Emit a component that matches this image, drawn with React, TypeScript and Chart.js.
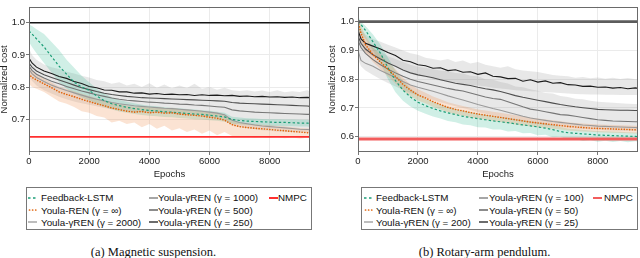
import React, { useEffect, useRef } from "react";
import { Chart, registerables } from "chart.js";
Chart.register(...registerables);

// ---------- shared axes ----------
const EPOCHS = [0,100,250,500,750,1000,1250,1500,1750,2000,
  2250,2500,2750,3000,3250,3500,3750,4000,4250,4500,
  4750,5000,5250,5500,5750,6000,6250,6500,6750,7000,
  7250,7500,7750,8000,8250,8500,8750,9000,9250,9340];
const X_TICKS = [0, 2000, 4000, 6000, 8000];
const X_MAX = 9340;
const X_TITLE = "Epochs";
const Y_TITLE = "Normalized cost";

// ---------- (a) Magnetic suspension ----------
const MAG_Y_TICKS = [0.7, 0.8, 0.9, 1.0];
const MAG_Y_MIN = 0.598;
const MAG_Y_MAX = 1.05;
const MAG_REF = 1.0;
const MAG_NMPC = 0.645;
const MAG_LSTM = [0.975,0.965,0.95,0.925,0.895,0.865,0.84,0.815,0.8,0.79,
  0.772,0.758,0.748,0.742,0.737,0.733,0.73,0.727,0.726,0.723,
  0.722,0.72,0.718,0.716,0.715,0.712,0.71,0.707,0.699,0.696,
  0.694,0.693,0.692,0.691,0.69,0.69,0.689,0.688,0.688,0.687];
const MAG_LSTM_HI = [0.995,0.99,0.98,0.965,0.94,0.915,0.885,0.86,0.835,0.815,
  0.795,0.78,0.768,0.76,0.754,0.75,0.745,0.742,0.74,0.737,
  0.736,0.734,0.732,0.73,0.728,0.726,0.723,0.72,0.708,0.705,
  0.703,0.702,0.701,0.7,0.7,0.699,0.699,0.698,0.698,0.697];
const MAG_LSTM_LO = [0.94,0.925,0.905,0.875,0.845,0.815,0.795,0.78,0.768,0.758,
  0.748,0.738,0.73,0.724,0.72,0.716,0.713,0.711,0.709,0.707,
  0.706,0.704,0.702,0.7,0.699,0.697,0.695,0.692,0.686,0.684,
  0.682,0.681,0.68,0.679,0.679,0.678,0.678,0.677,0.677,0.676];
const MAG_REN = [0.84,0.83,0.822,0.81,0.798,0.785,0.777,0.77,0.762,0.755,
  0.748,0.742,0.735,0.73,0.725,0.722,0.724,0.72,0.722,0.719,
  0.72,0.716,0.714,0.712,0.71,0.706,0.703,0.697,0.683,0.677,
  0.674,0.672,0.67,0.668,0.666,0.664,0.662,0.66,0.658,0.657];
const MAG_REN_HI = [0.86,0.85,0.84,0.826,0.814,0.802,0.794,0.787,0.779,0.772,
  0.765,0.758,0.752,0.747,0.742,0.739,0.74,0.737,0.738,0.735,
  0.736,0.732,0.73,0.728,0.726,0.722,0.72,0.715,0.695,0.69,
  0.687,0.685,0.683,0.681,0.679,0.677,0.675,0.673,0.671,0.67];
const MAG_REN_LO = [0.81,0.8,0.795,0.785,0.77,0.755,0.748,0.738,0.725,0.72,
  0.71,0.705,0.69,0.695,0.685,0.69,0.675,0.685,0.67,0.68,
  0.665,0.672,0.66,0.668,0.655,0.665,0.65,0.66,0.648,0.645,
  0.646,0.643,0.645,0.642,0.644,0.641,0.643,0.64,0.642,0.641];
const MAG_G_HIGH = [0.855,0.842,0.83,0.817,0.806,0.797,0.789,0.782,0.775,0.768,
  0.762,0.757,0.752,0.748,0.745,0.742,0.74,0.738,0.736,0.734,
  0.733,0.731,0.729,0.727,0.725,0.722,0.719,0.714,0.697,0.69,
  0.686,0.682,0.679,0.677,0.675,0.673,0.671,0.669,0.668,0.667]; // γ = 2000
const MAG_G_MIDHIGH = [0.865,0.852,0.84,0.828,0.818,0.81,0.802,0.795,0.788,0.782,
  0.776,0.771,0.766,0.762,0.759,0.757,0.755,0.753,0.752,0.75,
  0.749,0.747,0.746,0.744,0.743,0.741,0.739,0.737,0.729,0.726,
  0.724,0.722,0.721,0.72,0.719,0.718,0.717,0.716,0.715,0.715]; // γ = 1000
const MAG_G_MIDLOW = [0.875,0.862,0.85,0.838,0.83,0.822,0.814,0.806,0.798,0.792,
  0.786,0.781,0.777,0.774,0.771,0.769,0.767,0.766,0.765,0.764,
  0.763,0.762,0.761,0.76,0.759,0.758,0.757,0.756,0.752,0.75,
  0.749,0.748,0.747,0.746,0.745,0.744,0.743,0.742,0.741,0.74]; // γ = 500
const MAG_G_LOW = [0.89,0.875,0.862,0.85,0.842,0.833,0.827,0.817,0.811,0.802,
  0.798,0.791,0.79,0.785,0.785,0.781,0.782,0.778,0.78,0.777,
  0.778,0.776,0.777,0.774,0.776,0.774,0.775,0.773,0.774,0.771,
  0.772,0.77,0.771,0.769,0.77,0.768,0.769,0.767,0.768,0.767]; // γ = 250
const MAG_GRAY_HI = [0.92,0.9,0.885,0.87,0.862,0.856,0.848,0.842,0.835,0.83,
  0.822,0.818,0.81,0.815,0.805,0.81,0.8,0.812,0.798,0.808,
  0.796,0.805,0.797,0.81,0.795,0.8,0.792,0.798,0.79,0.788,
  0.79,0.786,0.789,0.785,0.79,0.784,0.787,0.785,0.79,0.786];
const MAG_GRAY_LO = [0.83,0.82,0.805,0.79,0.78,0.77,0.762,0.755,0.75,0.745,
  0.74,0.735,0.732,0.728,0.726,0.722,0.722,0.72,0.719,0.717,
  0.716,0.714,0.712,0.71,0.708,0.706,0.703,0.698,0.682,0.676,
  0.672,0.669,0.666,0.664,0.662,0.661,0.66,0.659,0.658,0.658];
const MAG_LABELS = ["Feedback-LSTM", "Youla-REN (γ = ∞)", "Youla-γREN (γ = 2000)",
  "Youla-γREN (γ = 1000)", "Youla-γREN (γ = 500)", "Youla-γREN (γ = 250)", "NMPC"];
const MAG_CAPTION = "(a) Magnetic suspension.";

// ---------- (b) Rotary-arm pendulum ----------
const PEN_Y_TICKS = [0.6, 0.7, 0.8, 0.9, 1.0];
const PEN_Y_MIN = 0.547;
const PEN_Y_MAX = 1.052;
const PEN_REF = 1.0;
const PEN_NMPC = 0.592;
const PEN_LSTM = [1.0,0.99,0.97,0.93,0.89,0.84,0.795,0.762,0.738,0.72,
  0.708,0.698,0.69,0.683,0.677,0.671,0.667,0.663,0.659,0.655,
  0.652,0.649,0.645,0.641,0.638,0.634,0.63,0.625,0.618,0.614,
  0.612,0.61,0.608,0.606,0.605,0.604,0.603,0.602,0.601,0.6];
const PEN_LSTM_HI = [1.02,1.0,0.985,0.955,0.92,0.875,0.83,0.795,0.768,0.748,
  0.733,0.722,0.712,0.704,0.697,0.691,0.686,0.681,0.677,0.673,
  0.669,0.666,0.662,0.658,0.654,0.65,0.646,0.641,0.634,0.629,
  0.626,0.624,0.622,0.62,0.619,0.618,0.617,0.616,0.615,0.615];
const PEN_LSTM_LO = [0.97,0.96,0.94,0.9,0.855,0.8,0.755,0.725,0.705,0.69,
  0.68,0.67,0.663,0.655,0.65,0.643,0.64,0.633,0.632,0.625,
  0.625,0.618,0.62,0.612,0.613,0.605,0.607,0.598,0.6,0.59,
  0.592,0.585,0.588,0.583,0.586,0.582,0.585,0.581,0.584,0.583];
const PEN_REN = [1.0,0.96,0.92,0.885,0.86,0.835,0.81,0.782,0.762,0.745,
  0.735,0.722,0.712,0.702,0.695,0.69,0.684,0.679,0.675,0.671,
  0.667,0.663,0.659,0.655,0.651,0.648,0.645,0.642,0.639,0.636,
  0.634,0.632,0.63,0.629,0.628,0.627,0.626,0.625,0.624,0.624];
const PEN_REN_HI = [1.02,0.985,0.95,0.91,0.885,0.86,0.835,0.805,0.782,0.765,
  0.753,0.74,0.73,0.72,0.713,0.707,0.701,0.695,0.691,0.687,
  0.683,0.679,0.675,0.671,0.667,0.663,0.66,0.657,0.654,0.65,
  0.648,0.646,0.644,0.643,0.642,0.641,0.64,0.639,0.638,0.638];
const PEN_REN_LO = [0.97,0.935,0.89,0.86,0.835,0.81,0.785,0.76,0.742,0.726,
  0.716,0.704,0.695,0.685,0.678,0.673,0.667,0.663,0.659,0.655,
  0.651,0.647,0.643,0.639,0.636,0.633,0.63,0.628,0.625,0.622,
  0.62,0.618,0.617,0.616,0.615,0.614,0.613,0.612,0.611,0.611];
const PEN_G_HIGH = [0.9,0.865,0.855,0.845,0.83,0.818,0.806,0.792,0.78,0.772,
  0.765,0.758,0.75,0.742,0.735,0.728,0.72,0.712,0.705,0.698,
  0.692,0.685,0.678,0.671,0.665,0.661,0.657,0.653,0.65,0.647,
  0.644,0.641,0.639,0.637,0.636,0.635,0.634,0.633,0.632,0.631]; // γ = 200
const PEN_G_MIDHIGH = [0.935,0.91,0.89,0.868,0.85,0.835,0.822,0.81,0.8,0.792,
  0.786,0.78,0.774,0.768,0.763,0.759,0.752,0.745,0.738,0.733,
  0.73,0.722,0.713,0.704,0.696,0.692,0.687,0.682,0.677,0.675,
  0.671,0.667,0.663,0.659,0.657,0.655,0.654,0.653,0.652,0.652]; // γ = 100
const PEN_G_MIDLOW = [0.95,0.925,0.905,0.885,0.87,0.856,0.845,0.832,0.822,0.815,
  0.81,0.805,0.798,0.792,0.786,0.782,0.778,0.772,0.767,0.763,
  0.757,0.75,0.743,0.737,0.732,0.727,0.722,0.717,0.712,0.708,
  0.704,0.701,0.698,0.695,0.694,0.693,0.692,0.692,0.691,0.691]; // γ = 50
const PEN_G_LOW = [0.97,0.94,0.925,0.915,0.905,0.893,0.882,0.866,0.861,0.85,
  0.847,0.838,0.84,0.83,0.833,0.824,0.826,0.817,0.822,0.81,
  0.808,0.802,0.803,0.793,0.798,0.79,0.794,0.786,0.788,0.781,
  0.78,0.775,0.776,0.772,0.773,0.769,0.771,0.767,0.77,0.768]; // γ = 25
const PEN_BLACK_HI = [1.0,0.97,0.955,0.94,0.93,0.92,0.91,0.9,0.89,0.885,
  0.875,0.87,0.865,0.87,0.86,0.865,0.855,0.86,0.85,0.845,
  0.84,0.845,0.835,0.83,0.828,0.825,0.82,0.815,0.812,0.81,
  0.805,0.808,0.803,0.806,0.802,0.805,0.801,0.804,0.8,0.8];
const PEN_BLACK_LO = [0.93,0.91,0.895,0.88,0.87,0.86,0.848,0.835,0.825,0.815,
  0.808,0.8,0.795,0.792,0.788,0.785,0.78,0.778,0.775,0.77,
  0.768,0.765,0.762,0.76,0.758,0.757,0.755,0.754,0.752,0.75,
  0.749,0.748,0.747,0.747,0.746,0.746,0.745,0.745,0.745,0.745];
const PEN_GRAY_HI = [0.98,0.95,0.93,0.91,0.895,0.88,0.87,0.86,0.85,0.843,
  0.84,0.835,0.83,0.828,0.822,0.82,0.812,0.81,0.8,0.798,
  0.79,0.785,0.775,0.772,0.765,0.76,0.752,0.75,0.742,0.738,
  0.732,0.73,0.725,0.722,0.72,0.718,0.716,0.715,0.714,0.714];
const PEN_GRAY_LO = [0.87,0.845,0.83,0.815,0.8,0.787,0.775,0.763,0.752,0.744,
  0.736,0.728,0.72,0.713,0.706,0.7,0.693,0.686,0.68,0.674,
  0.668,0.662,0.657,0.652,0.648,0.644,0.64,0.637,0.634,0.631,
  0.629,0.627,0.625,0.624,0.623,0.622,0.621,0.621,0.62,0.62];
const PEN_LABELS = ["Feedback-LSTM", "Youla-REN (γ = ∞)", "Youla-γREN (γ = 200)",
  "Youla-γREN (γ = 100)", "Youla-γREN (γ = 50)", "Youla-γREN (γ = 25)", "NMPC"];
const PEN_CAPTION = "(b) Rotary-arm pendulum.";

// ---------- styling ----------
const GREEN = "#1b9e77";
const ORANGE = "#e0640c";
const GRAYS = ["#9a9a9a", "#767676", "#4e4e4e", "#1c1c1c"]; // high γ -> low γ
const SANS = '"Liberation Sans", Arial, Helvetica, sans-serif';
const SERIF = '"Liberation Serif", "Times New Roman", serif';

type Panel = {
  lstm: number[]; lstmHi: number[]; lstmLo: number[];
  ren: number[]; renHi: number[]; renLo: number[];
  grays: number[][];
  grayBands: [number[], number[]][];
  ref: number; nmpc: number;
  refColor: string; refWidth: number; nmpcColor: string; nmpcWidth: number;
  yMin: number; yMax: number; yTicks: number[];
  yAxisWidth: number; yTitlePad: number;
};

const framePlugin = {
  id: "frame",
  afterDatasetsDraw(chart: any) {
    const { ctx, chartArea: a } = chart;
    ctx.save();
    ctx.strokeStyle = "#6a6a6a";
    ctx.lineWidth = 1;
    ctx.strokeRect(Math.round(a.left) + 0.5, Math.round(a.top) + 0.5,
      Math.round(a.right - a.left) - 1, Math.round(a.bottom - a.top) - 1);
    ctx.restore();
  },
};

function buildConfig(p: Panel): any {
  const pts = (ys: number[]) => ys.map((y, i) => ({ x: EPOCHS[i], y }));
  const flat = (v: number) => [{ x: 0, y: v }, { x: X_MAX, y: v }];
  const line = (ys: any[], color: string, width: number, dash: number[], order: number, cap = "butt") => ({
    data: ys, borderColor: color, borderWidth: width, borderDash: dash, borderCapStyle: cap,
    pointRadius: 0, fill: false, tension: 0, order,
  });
  const datasets: any[] = [];
  datasets.push(line(flat(p.ref), p.refColor, p.refWidth, [], 1));
  datasets.push(line(flat(p.nmpc), p.nmpcColor, p.nmpcWidth, [], 1));
  datasets.push(line(pts(p.ren), ORANGE, 1.6, [0.1, 2.6], 2, "round"));
  datasets.push(line(pts(p.lstm), GREEN, 1.2, [2.4, 2.2], 2));
  p.grays.forEach((g, i) => datasets.push(line(pts(g), GRAYS[i], 1.1, [], 6 - i)));
  const band = (hi: number[], lo: number[], color: string, order: number) => {
    datasets.push({ data: pts(hi), borderWidth: 0, pointRadius: 0, backgroundColor: color, fill: "+1", tension: 0, order });
    datasets.push({ data: pts(lo), borderWidth: 0, pointRadius: 0, fill: false, tension: 0, order });
  };
  band(p.renHi, p.renLo, "rgba(238,140,70,0.24)", 10);
  band(p.lstmHi, p.lstmLo, "rgba(40,180,140,0.22)", 11);
  p.grayBands.forEach(([hi, lo], i) => band(hi, lo, "rgba(150,150,150,0.22)", 12 + i));

  const tickFont = { family: SANS, size: 9.5 };
  return {
    type: "line",
    data: { datasets },
    plugins: [framePlugin],
    options: {
      animation: false,
      responsive: false,
      devicePixelRatio: 1,
      layout: { padding: 0, autoPadding: false },
      plugins: { legend: { display: false }, tooltip: { enabled: false } },
      scales: {
        x: {
          type: "linear", min: 0, max: X_MAX,
          afterBuildTicks: (s: any) => { s.ticks = X_TICKS.map((v) => ({ value: v })); },
          afterFit: (s: any) => { s.height = 30; },
          ticks: { font: tickFont, color: "#222", padding: 1, maxRotation: 0, callback: (v: any) => String(v) },
          grid: { color: "#ebebeb", lineWidth: 1, tickLength: 3, tickColor: "#777" },
          border: { display: false },
          title: { display: true, text: X_TITLE, font: { family: SANS, size: 9.5, lineHeight: 1 }, color: "#222", padding: { top: 0, bottom: 3 } },
        },
        y: {
          type: "linear", min: p.yMin, max: p.yMax,
          afterBuildTicks: (s: any) => { s.ticks = p.yTicks.map((v) => ({ value: v })); },
          afterFit: (s: any) => { s.width = p.yAxisWidth; },
          ticks: { font: tickFont, color: "#222", padding: 1, callback: (v: any) => Number(v).toFixed(1) },
          grid: { color: "#ebebeb", lineWidth: 1, tickLength: 3, tickColor: "#777" },
          border: { display: false },
          title: { display: true, text: Y_TITLE, font: { family: SANS, size: 9.5, lineHeight: 1 }, color: "#222", padding: { top: p.yTitlePad, bottom: 0 } },
        },
      },
    },
  };
}

function ChartCanvas({ panel, left, width }: { panel: Panel; left: number; width: number }) {
  const ref = useRef<HTMLCanvasElement | null>(null);
  useEffect(() => {
    if (!ref.current) return;
    const chart = new Chart(ref.current, buildConfig(panel));
    return () => chart.destroy();
  }, [panel]);
  return (
    <canvas ref={ref} width={width} height={182}
      style={{ position: "absolute", left, top: 0, width, height: 182, display: "block" }} />
  );
}

function Icon({ kind, color, width }: { kind: string; color: string; width: number }) {
  const dash = kind === "dash" ? "2.5 2.5" : kind === "dot" ? "0.1 3" : undefined;
  return (
    <svg width={width} height={6} style={{ position: "absolute", left: 0, top: -3 }}>
      <line x1={kind === "dot" ? 1.5 : 0} y1={3} x2={width} y2={3} stroke={color}
        strokeWidth={kind === "dot" ? 1.7 : kind === "solid-thick" ? 2 : 1.3}
        strokeDasharray={dash} strokeLinecap={kind === "dot" ? "round" : "butt"} />
    </svg>
  );
}

type LegendLayout = { left: number; width: number; colIcon: number[]; colText: number[]; iconW: number };

function Legend({ labels, layout, nmpcColor }: { labels: string[]; layout: LegendLayout; nmpcColor: string }) {
  const styles = [
    { kind: "dash", color: GREEN }, { kind: "dot", color: ORANGE },
    { kind: "solid", color: GRAYS[0] }, { kind: "solid", color: GRAYS[1] },
    { kind: "solid", color: GRAYS[2] }, { kind: "solid", color: GRAYS[3] },
    { kind: "solid-thick", color: nmpcColor },
  ];
  const rows = [10.7, 23, 35.3];
  return (
    <div style={{ position: "absolute", left: layout.left, top: 187, width: layout.width, height: 43,
      border: "1px solid #777", boxSizing: "border-box" }}>
      {labels.map((lab, i) => {
        const col = i < 3 ? 0 : i < 6 ? 1 : 2;
        const row = i < 3 ? i : i < 6 ? i - 3 : 0;
        return (
          <React.Fragment key={i}>
            <div style={{ position: "absolute", left: layout.colIcon[col] - 1, top: rows[row] - 1 }}>
              <Icon kind={styles[i].kind} color={styles[i].color} width={layout.iconW} />
            </div>
            <div style={{ position: "absolute", left: layout.colText[col] - 1, top: rows[row] - 7.5,
              font: `9.8px ${SANS}`, lineHeight: "13px", color: "#111", whiteSpace: "nowrap" }}>{lab}</div>
          </React.Fragment>
        );
      })}
    </div>
  );
}

const MAG_PANEL: Panel = {
  lstm: MAG_LSTM, lstmHi: MAG_LSTM_HI, lstmLo: MAG_LSTM_LO,
  ren: MAG_REN, renHi: MAG_REN_HI, renLo: MAG_REN_LO,
  grays: [MAG_G_HIGH, MAG_G_MIDHIGH, MAG_G_MIDLOW, MAG_G_LOW],
  grayBands: [[MAG_GRAY_HI, MAG_GRAY_LO]],
  ref: MAG_REF, nmpc: MAG_NMPC,
  refColor: "#151515", refWidth: 1.3, nmpcColor: "#ff2f2f", nmpcWidth: 1.6,
  yMin: MAG_Y_MIN, yMax: MAG_Y_MAX, yTicks: MAG_Y_TICKS, yAxisWidth: 29, yTitlePad: 0,
};
const PEN_PANEL: Panel = {
  lstm: PEN_LSTM, lstmHi: PEN_LSTM_HI, lstmLo: PEN_LSTM_LO,
  ren: PEN_REN, renHi: PEN_REN_HI, renLo: PEN_REN_LO,
  grays: [PEN_G_HIGH, PEN_G_MIDHIGH, PEN_G_MIDLOW, PEN_G_LOW],
  grayBands: [[PEN_BLACK_HI, PEN_BLACK_LO], [PEN_GRAY_HI, PEN_GRAY_LO]],
  ref: PEN_REF, nmpc: PEN_NMPC,
  refColor: "#5c5c5c", refWidth: 2.6, nmpcColor: "#f25d5d", nmpcWidth: 3,
  yMin: PEN_Y_MIN, yMax: PEN_Y_MAX, yTicks: PEN_Y_TICKS, yAxisWidth: 38, yTitlePad: 8,
};

export default function App() {
  return (
    <div style={{ position: "fixed", left: 0, top: 0, width: 640, height: 258, background: "#fff", overflow: "hidden" }}>
      <ChartCanvas panel={MAG_PANEL} left={0} width={310} />
      <ChartCanvas panel={PEN_PANEL} left={320} width={318} />
      <Legend labels={MAG_LABELS} nmpcColor="#ff2f2f"
        layout={{ left: 26, width: 286, colIcon: [2, 123, 243], colText: [15, 132, 252], iconW: 9 }} />
      <Legend labels={PEN_LABELS} nmpcColor="#f25d5d"
        layout={{ left: 361, width: 277, colIcon: [3, 118, 232], colText: [15, 128, 243], iconW: 9 }} />
      <div style={{ position: "absolute", left: 0, width: 307, top: 244, textAlign: "center",
        font: `12.5px ${SERIF}`, color: "#111", lineHeight: "17px" }}>{MAG_CAPTION}</div>
      <div style={{ position: "absolute", left: 320, width: 329, top: 244, textAlign: "center",
        font: `12.5px ${SERIF}`, color: "#111", lineHeight: "17px" }}>{PEN_CAPTION}</div>
    </div>
  );
}
